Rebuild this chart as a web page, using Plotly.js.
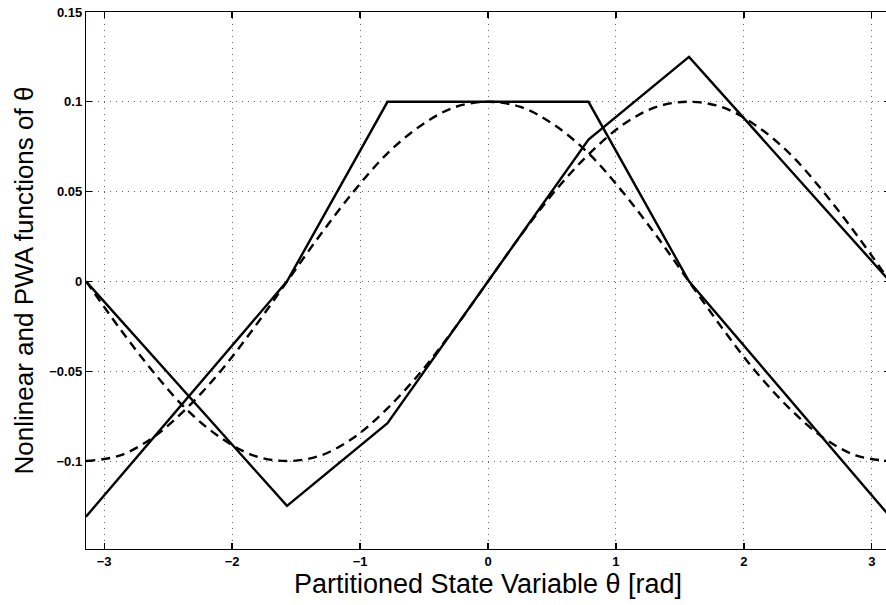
<!DOCTYPE html>
<html>
<head>
<meta charset="utf-8">
<script src="https://cdn.plot.ly/plotly-3.0.1.min.js"></script>
<style>html,body{margin:0;padding:0;overflow:hidden;background:#fff;width:886px;height:605px}</style>
</head>
<body>
<div id="chart" style="width:890px;height:605px"></div>
<script>
// Nonlinear functions (dashed)
var thetaSmooth = [-3.14, -2.88, -2.62, -2.36, -2.09, -1.83, -1.57, -1.31, -1.05, -0.79, -0.52, -0.26, 0, 0.26, 0.52, 0.79, 1.05, 1.31, 1.57, 1.83, 2.09, 2.36, 2.62, 2.88, 3.14];
var cosCurve = [-0.100, -0.097, -0.087, -0.071, -0.050, -0.026, 0, 0.026, 0.050, 0.071, 0.087, 0.097, 0.100, 0.097, 0.087, 0.071, 0.050, 0.026, 0, -0.026, -0.050, -0.071, -0.087, -0.097, -0.100];
var sinCurve = [0, -0.026, -0.050, -0.071, -0.087, -0.097, -0.100, -0.097, -0.087, -0.071, -0.050, -0.026, 0, 0.026, 0.050, 0.071, 0.087, 0.097, 0.100, 0.097, 0.087, 0.071, 0.050, 0.026, 0];
// PWA approximations (solid)
var pwaCosX = [-3.1416, -1.5708, -0.7854, 0.7854, 1.5708, 3.1416];
var pwaCosY = [-0.131, 0, 0.1, 0.1, 0, -0.131];
var pwaSinX = [-3.1416, -1.5708, -0.7854, 0, 0.7854, 1.5708, 3.1416];
var pwaSinY = [0, -0.125, -0.079, 0, 0.079, 0.125, 0];
// Ticks
var xTicks = [-3, -2, -1, 0, 1, 2, 3];
var xTickText = ['\u22123', '\u22122', '\u22121', '0', '1', '2', '3'];
var yTicks = [-0.1, -0.05, 0, 0.05, 0.1, 0.15];
var yTickText = ['\u22120.1', '\u22120.05', '0', '0.05', '0.1', '0.15'];

var solid = {color: '#000', width: 2.4};
var dashed = {color: '#000', width: 2.4, dash: '9px,6px', shape: 'spline'};

var traces = [
  {x: thetaSmooth, y: cosCurve, mode: 'lines', line: dashed},
  {x: thetaSmooth, y: sinCurve, mode: 'lines', line: dashed},
  {x: pwaCosX, y: pwaCosY, mode: 'lines', line: solid},
  {x: pwaSinX, y: pwaSinY, mode: 'lines', line: solid}
];

var axisCommon = {
  showline: true, linecolor: '#000', linewidth: 1.2, mirror: 'ticks',
  ticks: 'inside', ticklen: 6, tickcolor: '#000', tickwidth: 1.2,
  showgrid: true, gridcolor: '#666', griddash: '1px,5px', gridwidth: 1,
  zeroline: false,
  tickfont: {family: 'Liberation Sans, Arial, sans-serif', size: 13, color: '#000', weight: 'bold'}
};

var layout = {
  width: 890, height: 605,
  margin: {l: 86, r: 0, t: 12, b: 56},
  paper_bgcolor: '#fff', plot_bgcolor: '#fff',
  showlegend: false,
  xaxis: Object.assign({}, axisCommon, {
    range: [-3.1416, 3.1416], tickvals: xTicks, ticktext: xTickText,
    title: {text: 'Partitioned State Variable \u03b8 [rad]', standoff: 1,
            font: {family: 'Liberation Sans, Arial, sans-serif', size: 27, color: '#000'}}
  }),
  yaxis: Object.assign({}, axisCommon, {
    range: [-0.149, 0.15], tickvals: yTicks, ticktext: yTickText,
    title: {text: 'Nonlinear and PWA functions of \u03b8', standoff: 8,
            font: {family: 'Liberation Sans, Arial, sans-serif', size: 26, color: '#000'}}
  })
};

Plotly.newPlot('chart', traces, layout, {staticPlot: true, displayModeBar: false});
</script>
</body>
</html>
